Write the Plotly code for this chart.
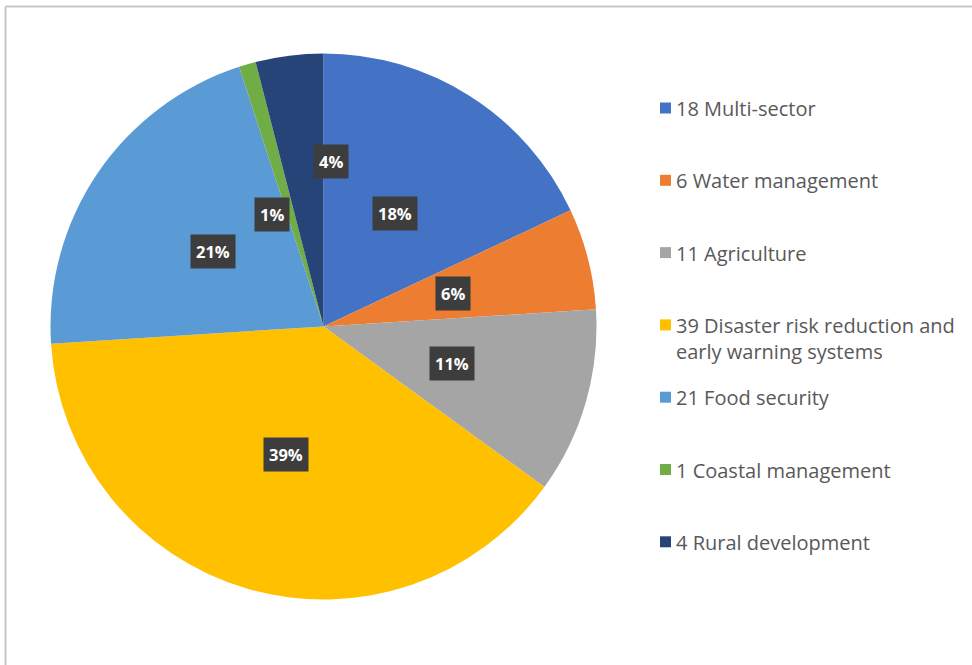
import math
import plotly.graph_objects as go

categories = ["Multi-sector", "Water management", "Agriculture",
              "Disaster risk reduction and<br>early warning systems",
              "Food security", "Coastal management", "Rural development"]
values = [18, 6, 11, 39, 21, 1, 4]
colors = ["#4472C4", "#ED7D31", "#A5A5A5", "#FFC000", "#5B9BD5", "#70AD47", "#264478"]
# label nudges (pixels) mimicking Excel's collision adjustment
label_shift = [(0, 0), (0, 0), (0, 0), (0, 0), (0, 0), (-14, 16), (24, -32)]

W, H = 972, 665
cx, cy, R = 323.5, 326.5, 273.0  # pie centre / radius in pixels

fig = go.Figure()
fig.add_trace(go.Pie(
    labels=categories, values=values, sort=False, direction="clockwise",
    rotation=0, marker=dict(colors=colors, line=dict(width=0)),
    textinfo="none", hoverinfo="skip", showlegend=False,
    domain=dict(x=[(cx - R) / W, (cx + R) / W], y=[1 - (cy + R) / H, 1 - (cy - R) / H]),
))

total = sum(values)
annotations = []
shapes = []
cum = 0
for i, v in enumerate(values):
    mid = (cum + v / 2) / total * 2 * math.pi
    cum += v
    px = cx + 0.49 * R * math.sin(mid) + label_shift[i][0]
    py = cy - 0.49 * R * math.cos(mid) + label_shift[i][1]
    pct = f"{round(v / total * 100)}%"
    annotations.append(dict(
        x=px / W, y=1 - py / H, xref="paper", yref="paper",
        xanchor="center", yanchor="middle",
        text=f"<b>{pct}</b>", showarrow=False,
        font=dict(family="Open Sans", size=16.5, color="white"),
        bgcolor="#3d3d3d", borderpad=5))

# legend drawn manually
leg_x, leg_y0, leg_dy = 660, 108, 72.3
for i, (c, v) in enumerate(zip(categories, values)):
    yc = leg_y0 + leg_dy * i
    shapes.append(dict(type="rect", xref="paper", yref="paper",
                       x0=leg_x / W, x1=(leg_x + 11) / W,
                       y0=1 - (yc + 5.5) / H, y1=1 - (yc - 5.5) / H,
                       fillcolor=colors[i], line=dict(width=0)))
    annotations.append(dict(
        x=(leg_x + 14) / W, y=1 - (yc - 15) / H, xref="paper", yref="paper",
        xanchor="left", yanchor="top", align="left",
        text=f"{v} {c}", showarrow=False,
        font=dict(family="Open Sans", size=20, color="#595959")))

# frame lines (top and left)
shapes.append(dict(type="line", xref="paper", yref="paper", x0=5.5 / W, x1=1, y0=1 - 6.5 / H, y1=1 - 6.5 / H,
                   line=dict(color="#c6c6c6", width=2)))
shapes.append(dict(type="line", xref="paper", yref="paper", x0=5.5 / W, x1=5.5 / W, y0=0, y1=1 - 6.5 / H,
                   line=dict(color="#c6c6c6", width=2)))

fig.update_layout(
    width=W, height=H, margin=dict(l=0, r=0, t=0, b=0),
    paper_bgcolor="white", plot_bgcolor="white",
    annotations=annotations, shapes=shapes, showlegend=False,
)
fig.write_html("out.html", config={"displayModeBar": False},
               post_script="document.body.style.margin='0';")
